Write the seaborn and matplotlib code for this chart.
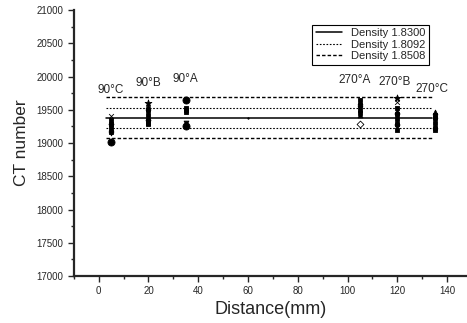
import pandas as pd
import matplotlib.pyplot as plt
import seaborn as sns
from matplotlib.ticker import MultipleLocator

# points mesures (distance en mm, nombre CT, marqueur)
x_90c = [5, 5, 5, 5, 5, 5, 5, 5, 5, 5]
y_90c = [19400, 19350, 19320, 19290, 19260, 19230, 19200, 19170, 19150, 19020]
m_90c = ["x", "s", "^", "s", "v", "s", "^", "s", "v", "o"]

x_90b = [20, 20, 20, 20, 20, 20, 20, 20, 20, 20]
y_90b = [19600, 19550, 19500, 19460, 19420, 19380, 19350, 19320, 19300, 19280]
m_90b = ["*", "^", "s", "v", "s", "^", "s", "v", "s", "s"]

x_90a = [35, 35, 35, 35, 35, 35]
y_90a = [19650, 19520, 19490, 19460, 19300, 19260]
m_90a = ["o", "s", "s", "s", "v", "o"]

x_mid = [60]
y_mid = [19376]
m_mid = ["."]

x_270a = [105, 105, 105, 105, 105, 105, 105, 105]
y_270a = [19650, 19610, 19570, 19530, 19490, 19450, 19420, 19290]
m_270a = ["s", "^", "s", "v", "s", "s", "^", "D"]

x_270b = [120] * 11
y_270b = [19680, 19620, 19520, 19480, 19440, 19400, 19360, 19320, 19280, 19240, 19200]
m_270b = ["*", "x", "s", "^", "s", "v", "s", "^", "s", "v", "s"]

x_270c = [135] * 8
y_270c = [19460, 19420, 19380, 19340, 19300, 19260, 19220, 19200]
m_270c = ["^", "s", "s", "v", "s", "^", "s", "s"]

# niveaux de reference
line_x = [3, 134]
level_1830 = 19376
levels_1809 = [19526, 19226]
levels_1851 = [19692, 19075]

labels = ["90°C", "90°B", "90°A", "270°A", "270°B", "270°C"]
label_x = [5, 20, 35, 103, 119, 134]
label_y = [19800, 19900, 19960, 19950, 19920, 19810]

data = pd.DataFrame({
    "x": x_90c + x_90b + x_90a + x_mid + x_270a + x_270b + x_270c,
    "y": y_90c + y_90b + y_90a + y_mid + y_270a + y_270b + y_270c,
    "m": m_90c + m_90b + m_90a + m_mid + m_270a + m_270b + m_270c,
})

sns.set_style("ticks")
plt.rcParams["font.family"] = ["Liberation Sans", "DejaVu Sans"]

fig = plt.figure(figsize=(4.67, 3.23), dpi=100)
ax = fig.add_axes([0.158, 0.1455, 0.842, 0.8235])

sns.lineplot(x=line_x, y=[level_1830] * 2, ax=ax, color="black", lw=1.1,
             label="Density 1.8300")
for i, v in enumerate(levels_1809):
    sns.lineplot(x=line_x, y=[v] * 2, ax=ax, color="black", lw=0.8,
                 dashes=False, linestyle=(0, (1.5, 1.5)),
                 label="Density 1.8092" if i == 0 else None)
for i, v in enumerate(levels_1851):
    sns.lineplot(x=line_x, y=[v] * 2, ax=ax, color="black", lw=1.0,
                 dashes=False, linestyle=(0, (2.5, 1.5)),
                 label="Density 1.8508" if i == 0 else None)

for mk, grp in data.groupby("m"):
    size = 26 if mk in ("o", "*") else (4 if mk == "." else 12)
    face = "white" if mk == "D" else "black"
    sns.scatterplot(data=grp, x="x", y="y", marker=mk, s=size, color=face,
                    edgecolor="black", linewidth=0.6, ax=ax, legend=False)

for t, lx, ly in zip(labels, label_x, label_y):
    ax.text(lx, ly, t, ha="center", va="center", fontsize=8.5)

ax.set_xlim(-10, 148)
ax.set_ylim(17000, 21000)
ax.xaxis.set_major_locator(MultipleLocator(20))
ax.xaxis.set_minor_locator(MultipleLocator(10))
ax.yaxis.set_major_locator(MultipleLocator(500))
ax.yaxis.set_minor_locator(MultipleLocator(250))
ax.tick_params(which="major", direction="out", length=4, width=1, labelsize=7)
ax.tick_params(which="minor", direction="out", length=2.5, width=1)
for s in ["top", "right"]:
    ax.spines[s].set_visible(False)
for s in ["left", "bottom"]:
    ax.spines[s].set_linewidth(1.6)

ax.set_xlabel("Distance(mm)", fontsize=13, labelpad=3)
ax.set_ylabel("CT number", fontsize=12.5, labelpad=5)

leg = ax.legend(loc="upper left", bbox_to_anchor=(0.607, 0.945), fontsize=8,
                frameon=True, fancybox=False, edgecolor="black", framealpha=1,
                handlelength=2.4, borderpad=0.3, labelspacing=0.15,
                handletextpad=0.8, borderaxespad=0)
leg.get_frame().set_linewidth(0.8)

plt.savefig("out.png", dpi=100)
